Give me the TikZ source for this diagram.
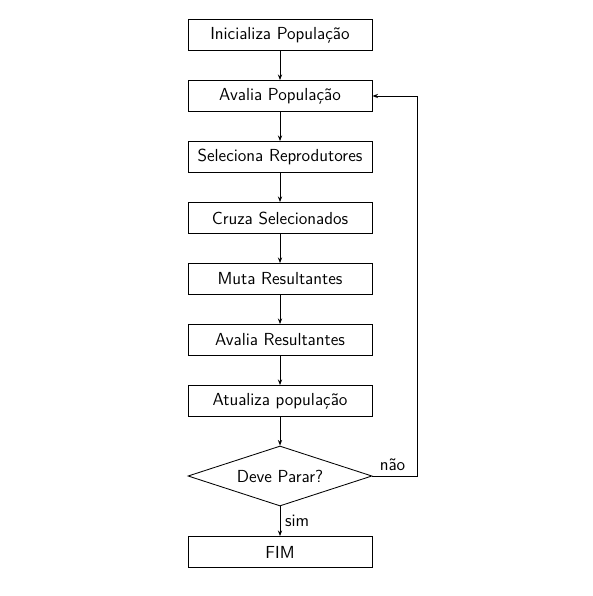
\documentclass[tikz,border=0pt]{standalone}
\usetikzlibrary{arrows.meta, shapes.geometric}

\begin{document}
\begin{tikzpicture}[x=0.25mm, y=-0.25mm, font=\sffamily\fontsize{12.4}{15}\selectfont]
\useasboundingbox (0, 0) rectangle (592, 596);
\begin{scope}[
    every node/.style={draw=black,fill=white,line width=0.6pt},
    caixa/.style={rectangle,minimum width=46mm,minimum height=7.75mm,inner sep=0pt}]
    \node (1) at (280, 35) [caixa] {Inicializa População};
    \node (2) at (280, 96) [caixa] {Avalia População};
    \node (3) at (280, 157) [caixa] {Seleciona Reprodutores};
    \node (4) at (280, 218) [caixa] {Cruza Selecionados};
    \node (5) at (280, 279) [caixa] {Muta Resultantes};
    \node (6) at (280, 340) [caixa] {Avalia Resultantes};
    \node (7) at (280, 401) [caixa] {Atualiza população};

    % % decisao
    \node (8) at (280, 476) [diamond,aspect=3.07,minimum width=46mm,minimum height=15mm,inner sep=0pt] {Deve Parar?};
    \node (9) at (280, 552) [caixa] {FIM};
\end{scope}

\coordinate (volta) at (417, 476);

\begin{scope}[>={Stealth[length=4pt,width=3pt]},
              every node/.style={text=black},
              every edge/.style={draw=black,line width=0.6pt}]
    \path [->] (1) edge (2);
    \path [->] (2) edge (3);
    \path [->] (3) edge (4);
    \path [->] (4) edge (5);
    \path [->] (5) edge (6);
    \path [->] (6) edge (7);
    \path [->] (7) edge (8);
    \path [->] (8) edge node [right] {sim} (9);

    \draw [->, line width=0.6pt] (8.east) -- node [above, pos=0.45] {não} (volta) |- (2.east);
\end{scope}
\end{tikzpicture}
\end{document}
